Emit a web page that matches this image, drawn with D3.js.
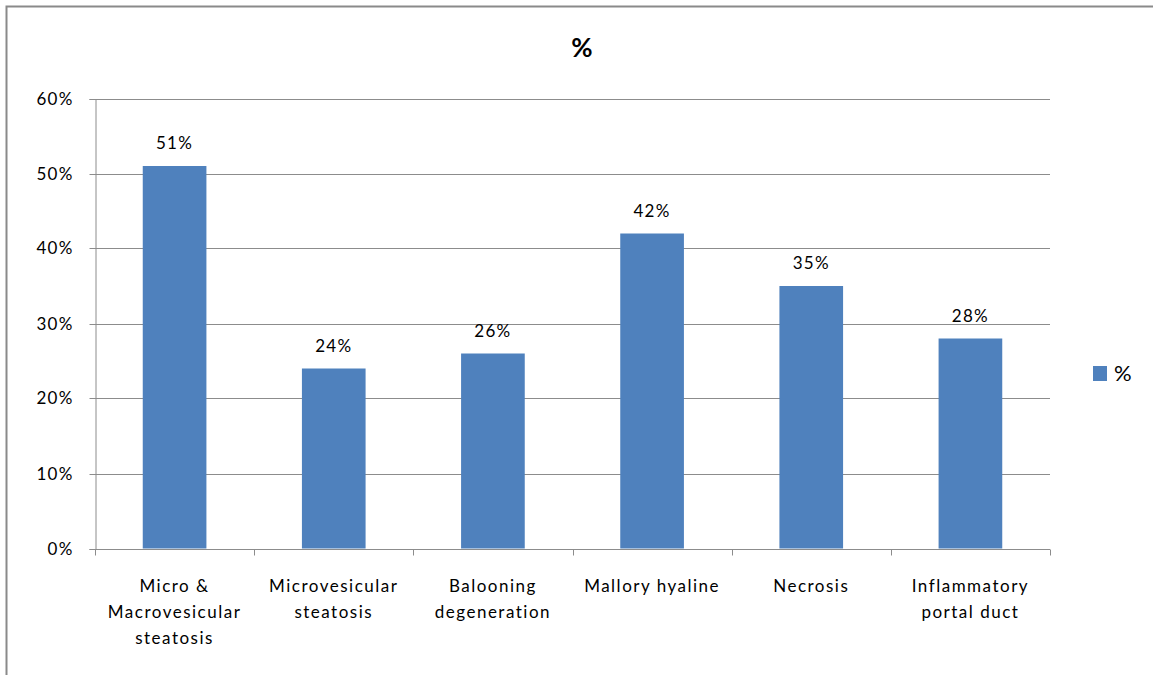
<!DOCTYPE html>
<html>
<head>
<meta charset="utf-8">
<script src="https://d3js.org/d3.v7.min.js"></script>
<style>
  html, body { margin: 0; padding: 0; background: #fff; }
  svg { display: block; }
  text { font-family: Lato, "Open Sans", sans-serif; fill: #000; }
</style>
</head>
<body>
<div id="chart"></div>
<script>
const categories = [
  ["Micro &", "Macrovesicular", "steatosis"],
  ["Microvesicular", "steatosis"],
  ["Balooning", "degeneration"],
  ["Mallory hyaline"],
  ["Necrosis"],
  ["Inflammatory", "portal duct"]
];
const values = [0.51, 0.24, 0.26, 0.42, 0.35, 0.28];
const yTicks = [0, 0.1, 0.2, 0.3, 0.4, 0.5, 0.6];
const seriesName = "%";
const title = "%";

const W = 1153, H = 675;
const plot = { left: 95, right: 1050, top: 98.5, bottom: 548.5 };

const svg = d3.select("#chart").append("svg").attr("width", W).attr("height", H);

// outer frame
svg.append("rect")
  .attr("x", 6.5).attr("y", 6.5).attr("width", W + 10).attr("height", H + 10)
  .attr("fill", "none").attr("stroke", "#8a8a8a").attr("stroke-width", 2);

const labels = categories.map(c => c.join(" "));
const x = d3.scaleBand().domain(labels).range([plot.left, plot.right])
  .paddingInner(0.6).paddingOuter(0.3);
const y = d3.scaleLinear().domain([0, 0.6]).range([plot.bottom, plot.top]);
const fmt = d3.format(".0%");

// gridlines
svg.append("g").selectAll("line").data(yTicks.slice(1)).join("line")
  .attr("x1", plot.left).attr("x2", plot.right)
  .attr("y1", d => Math.round(y(d)) + 0.5).attr("y2", d => Math.round(y(d)) + 0.5)
  .attr("stroke", "#8c8c8c").attr("stroke-width", 1);

// y axis
const yAxis = svg.append("g").attr("transform", `translate(${plot.left + 0.5},0.5)`)
  .call(d3.axisLeft(y).tickValues(yTicks).tickFormat(fmt).tickSize(6).tickPadding(16));
yAxis.select(".domain").attr("stroke", "#8c8c8c");
yAxis.selectAll(".tick line").attr("stroke", "#8c8c8c");
yAxis.selectAll(".tick text")
  .attr("font-size", 17).attr("letter-spacing", 1.2)
  .style("font-family", "Lato, sans-serif").attr("fill", "#000");
yAxis.selectAll(".tick").attr("transform", d => `translate(0,${Math.round(y(d))})`);

// bars
svg.append("g").selectAll("rect").data(values).join("rect")
  .attr("x", (d, i) => x(labels[i]))
  .attr("width", x.bandwidth())
  .attr("y", d => y(d))
  .attr("height", d => y(0) - y(d))
  .attr("fill", "#4F81BD");

// data labels
svg.append("g").selectAll("text").data(values).join("text")
  .attr("x", (d, i) => x(labels[i]) + x.bandwidth() / 2)
  .attr("y", d => y(d) - 17)
  .attr("text-anchor", "middle")
  .attr("font-size", 17).attr("letter-spacing", 1.3)
  .text(d => fmt(d));

// x axis line and tick marks at category boundaries
const step = x.step();
const boundaries = labels.map(l => x(l) - step * 0.3).concat([x(labels[labels.length - 1]) - step * 0.3 + step]);
const y0 = Math.round(y(0)) + 0.5;
svg.append("line")
  .attr("x1", plot.left).attr("x2", plot.right)
  .attr("y1", y0).attr("y2", y0)
  .attr("stroke", "#8c8c8c");
svg.append("g").selectAll("line").data(boundaries).join("line")
  .attr("x1", d => Math.round(d) + 0.5).attr("x2", d => Math.round(d) + 0.5)
  .attr("y1", y0).attr("y2", y0 + 6)
  .attr("stroke", "#8c8c8c");

// category labels
const catG = svg.append("g").selectAll("text").data(categories).join("text")
  .attr("text-anchor", "middle")
  .attr("font-size", 17).attr("letter-spacing", 1.5)
  .attr("x", (d, i) => x(labels[i]) + x.bandwidth() / 2)
  .attr("y", 592);
catG.selectAll("tspan").data(d => d).join("tspan")
  .attr("x", function () { return d3.select(this.parentNode).attr("x"); })
  .attr("dy", (d, i) => i === 0 ? 0 : 26)
  .text(d => d);

// title
svg.append("text")
  .attr("x", 582).attr("y", 57)
  .attr("text-anchor", "middle")
  .attr("font-size", 26).attr("font-weight", "bold")
  .text(title);

// legend
const lg = svg.append("g");
lg.append("rect").attr("x", 1093).attr("y", 366).attr("width", 14).attr("height", 15).attr("fill", "#4F81BD");
lg.append("text").attr("x", 1114).attr("y", 381).attr("font-size", 22).text(seriesName);
</script>
</body>
</html>
